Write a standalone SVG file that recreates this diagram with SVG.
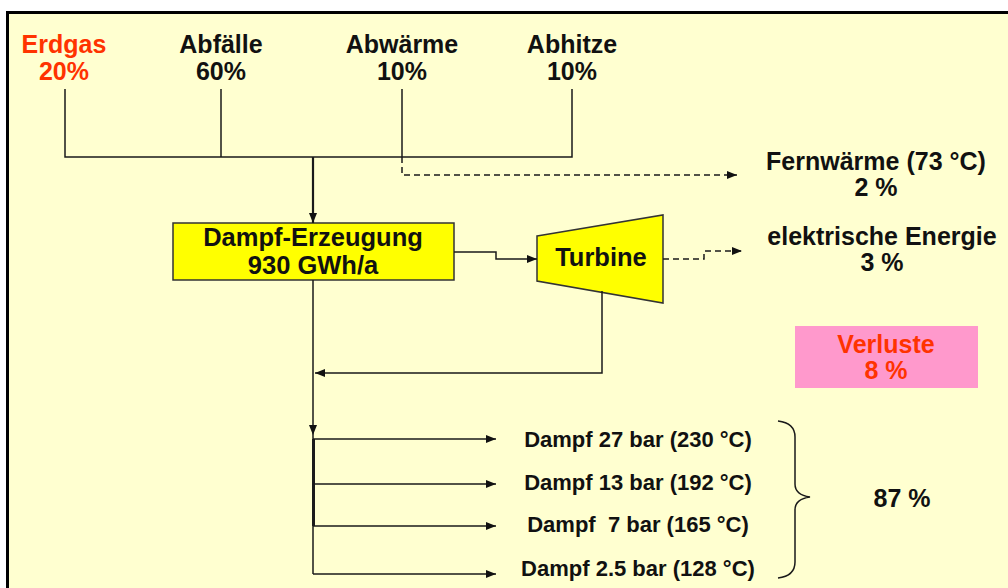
<svg xmlns="http://www.w3.org/2000/svg" width="1008" height="588" viewBox="0 0 1008 588">
<defs>
<marker id="ah" markerUnits="userSpaceOnUse" markerWidth="11" markerHeight="8" refX="10" refY="4" orient="auto">
<path d="M0,0 L10,4 L0,8 z" fill="#111"/>
</marker>
</defs>
<style>
text{font-family:"Liberation Sans",Arial,sans-serif;font-weight:bold;text-anchor:middle;fill:#111}
.t{font-size:25px}
.b{font-size:25.5px}
.red{fill:#FF3300}
.s{font-size:22px}
.ln{fill:none;stroke:#1a1a1a;stroke-width:1.5}
.thick{fill:none;stroke:#1a1a1a;stroke-width:2.2}
.dash{fill:none;stroke:#1a1a1a;stroke-width:1.5;stroke-dasharray:6,4}
</style>
<rect x="0" y="0" width="1008" height="588" fill="#ffffff"/>
<rect x="7.5" y="12.5" width="1010" height="600" fill="#FFFFD0" stroke="#000" stroke-width="3"/>

<g id="erdgas"><text class="t red" x="64" y="53">Erdgas</text><text class="t red" x="64" y="80">20%</text></g>
<g id="abfaelle"><text class="t" x="221" y="53">Abfälle</text><text class="t" x="221" y="80">60%</text></g>
<g id="abwaerme"><text class="t" x="402" y="53">Abwärme</text><text class="t" x="402" y="80">10%</text></g>
<g id="abhitze"><text class="t" x="572" y="53">Abhitze</text><text class="t" x="572" y="80">10%</text></g>

<g id="fernwaerme"><text class="t" x="876" y="170">Fernwärme (73 °C)</text><text class="t" x="876" y="196">2 %</text></g>
<g id="elektrisch"><text class="t" x="882" y="245">elektrische Energie</text><text class="t" x="882" y="271">3 %</text></g>

<g id="dampferzeugung">
<rect x="173" y="223" width="281" height="57" fill="#FFFF00" stroke="#333" stroke-width="1.5"/>
<text class="b" x="313" y="246">Dampf-Erzeugung</text>
<text class="b" x="313" y="274">930 GWh/a</text>
</g>

<g id="turbine">
<path d="M537,236 L663,215 L663,303 L537,281 z" fill="#FFFF00" stroke="#333" stroke-width="1.5"/>
<text class="b" x="601" y="266">Turbine</text>
</g>

<g id="verluste">
<rect x="795" y="326" width="183" height="62" fill="#FF99CC"/>
<text class="t red" x="886" y="353">Verluste</text>
<text class="t red" x="886" y="379">8 %</text>
</g>

<g id="dampf27"><text class="s" x="638" y="447">Dampf 27 bar (230 °C)</text></g>
<g id="dampf13"><text class="s" x="638" y="490">Dampf 13 bar (192 °C)</text></g>
<g id="dampf7"><text class="s" x="638" y="532" xml:space="preserve">Dampf  7 bar (165 °C)</text></g>
<g id="dampf25"><text class="s" x="638" y="576">Dampf 2.5 bar (128 °C)</text></g>

<g id="summe">
<path class="ln" d="M778,421 Q795,423 795,437 L795,484 Q795,495 810,497 Q795,499 795,510 L795,562 Q795,576 778,578"/>
<text class="t" x="902" y="507">87 %</text>
</g>

<g id="connectors">
<path class="ln" d="M65,89 L65,157 L572,157 L572,89"/>
<path class="ln" d="M221,89 L221,157"/>
<path class="ln" d="M402,89 L402,157"/>
<path class="thick" d="M313,157 L313,223" marker-end="url(#ah)"/>
<path class="dash" d="M402,157 L402,175 L737,175" marker-end="url(#ah)"/>
<path class="ln" d="M454,252 L496,252 L496,259 L537,259" marker-end="url(#ah)"/>
<path class="dash" d="M663,259 L704,259 L704,251 L742,251" marker-end="url(#ah)"/>
<path class="ln" d="M602,291 L602,373 L315,373" marker-end="url(#ah)"/>
<path class="ln" d="M313,280 L313,435" marker-end="url(#ah)"/>
<path class="ln" d="M313,435 L313,574"/>
<path class="thick" d="M313.5,439 L313.5,526" style="stroke-width:3"/>
<path class="ln" d="M313,439 L496,439" marker-end="url(#ah)"/>
<path class="ln" d="M313,484 L496,484" marker-end="url(#ah)"/>
<path class="ln" d="M313,526 L496,526" marker-end="url(#ah)"/>
<path class="ln" d="M313,574 L496,574" marker-end="url(#ah)"/>
</g>
</svg>
